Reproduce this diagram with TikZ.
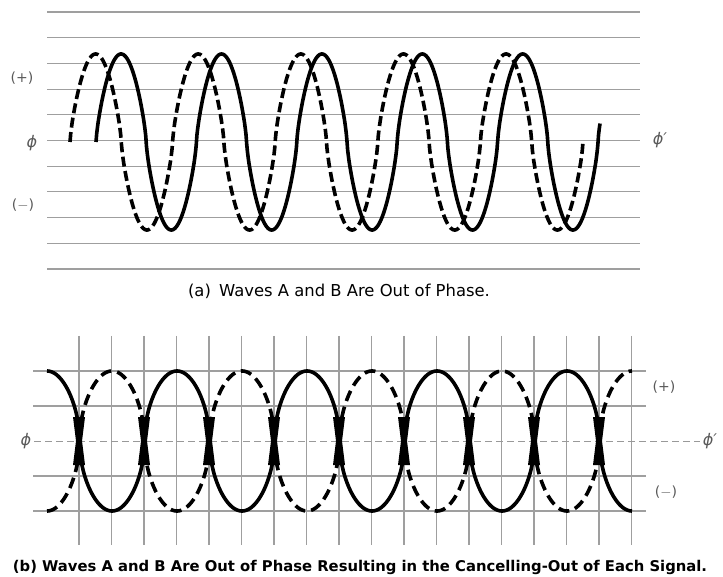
\documentclass[tikz,border=0pt]{standalone}
\usepackage{fontspec}
\setmainfont{DejaVu Sans}

\begin{document}
\begin{tikzpicture}[
    x=1pt, y=-1pt,
    declare function={
        coil(\t)=sign(sin(\t))*sqrt(abs(sin(\t)));
        swing(\t)=sign(sin(\t))*pow(abs(sin(\t))+0.00001,0.75);
    },
    rule/.style={
        gray!75,
        line width=1.1pt
    },
    gridline/.style={
        gray!75,
        line width=1.1pt
    },
    axisline/.style={
        gray!80,
        line width=0.8pt,
        dash pattern=on 7pt off 4pt
    },
    wave solid/.style={
        line width=3.6pt
    },
    wave dashed/.style={
        line width=3.6pt,
        dash pattern=on 10pt off 4.5pt
    },
    sign/.style={
        text=black!65,
        inner sep=0pt,
        font=\fontsize{14}{14}\selectfont
    },
    phase/.style={
        text=black!65,
        inner sep=0pt,
        font=\fontsize{16}{16}\selectfont\itshape
    },
    caption/.style={
        inner sep=0pt,
        font=\fontsize{16.4}{16.4}\selectfont
    }
]
\useasboundingbox (0,0) rectangle (723,577);

% (a) ruled lines
\foreach \k in {0,...,10}
    \draw[rule] (47,{12+25.7*\k}) -- (640,{12+25.7*\k});

% (a) waves A and B
\draw[wave dashed] plot[domain=70:583, samples=700]
    (\x,{142-88*swing((\x-70)*3.5088)});
\draw[wave solid] plot[domain=96:600, samples=700]
    (\x,{142-88*swing((\x-96)*3.5857)});

\node[sign] (plus-a) at (22,78) {(+)};
\node[phase] (phi-a) at (32,143) {ϕ};
\node[sign] (minus-a) at (23,205) {($-$)};
\node[phase] (phi-a-prime) at (660,140) {ϕ′};

\node[caption] (cap-a) at (339,291) {(a)\enspace Waves A and B Are Out of Phase.};

% (b) grid
\foreach \k in {0,...,17}
    \draw[gridline] ({79+32.5*\k},336) -- ({79+32.5*\k},545);
\foreach \y in {371,406,476,511}
    \draw[gridline] (33,\y) -- (646,\y);

\node[phase] (phi-b) at (26,441) {ϕ};
\node[phase] (phi-b-prime) at (710,441) {ϕ′};
\draw[axisline, shorten <=3pt, shorten >=3pt] (phi-b) -- (phi-b-prime);

\node[sign] (plus-b) at (664,387) {(+)};
\node[sign] (minus-b) at (666,492) {($-$)};

% (b) waves A and B
\draw[wave dashed, dash pattern=on 11pt off 6pt] plot[domain=47:632, samples=700]
    (\x,{441+70*coil((\x-47)*2.7692+90)});
\draw[wave solid] plot[domain=47:632, samples=700]
    (\x,{441-70*coil((\x-47)*2.7692+90)});

% overlap at the crossings
\foreach \k in {0,...,8}
    \fill ({79+65*\k-6},417) -- ({79+65*\k+6},417) -- ({79+65*\k+3},441)
        -- ({79+65*\k+6},465) -- ({79+65*\k-6},465) -- ({79+65*\k-3},441) -- cycle;

\node[caption, font=\fontsize{14.8}{14.8}\selectfont\bfseries] (cap-b) at (360,567)
    {(b) Waves A and B Are Out of Phase Resulting in the Cancelling-Out of Each Signal.};
\end{tikzpicture}
\end{document}
